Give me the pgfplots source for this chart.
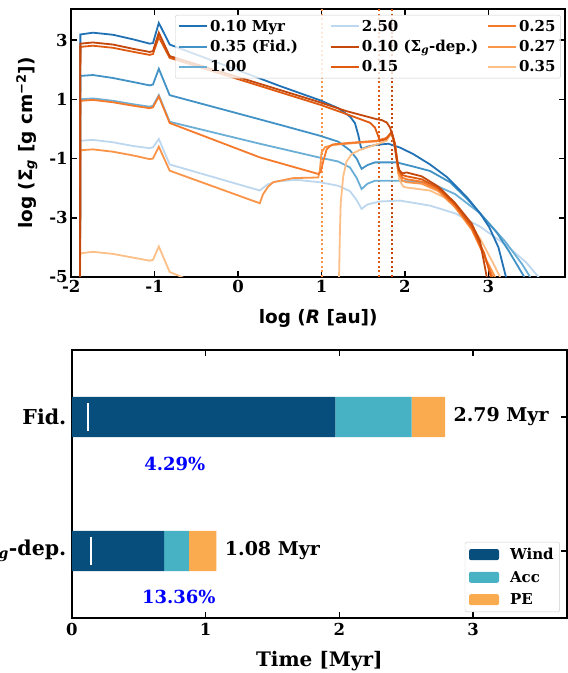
\documentclass[border=0pt]{standalone}
\usepackage{fontspec}
\setmainfont{DejaVu Serif}
\newfontfamily\dvsans{DejaVu Sans}
\usepackage{pgfplots}
\pgfplotsset{compat=1.18}

\newcommand\fsz[1]{\fontsize{#1bp}{#1bp}\selectfont}

\definecolor{b1}{HTML}{2171B5}
\definecolor{b2}{HTML}{4292C6}
\definecolor{b3}{HTML}{6BAED6}
\definecolor{b4}{HTML}{BDD7EE}
\definecolor{o1}{HTML}{C4470C}
\definecolor{o2}{HTML}{E05A10}
\definecolor{o3}{HTML}{F57A2B}
\definecolor{o4}{HTML}{FA9448}
\definecolor{o5}{HTML}{FDBF88}
\definecolor{cwind}{HTML}{084E7C}
\definecolor{cacc}{HTML}{47B2C4}
\definecolor{cpe}{HTML}{FAAB4F}

\pgfplotsset{
  frame/.style={
    scale only axis,
    tick align=inside, tick pos=both,
    major tick length=6bp,
    every tick/.style={black, line width=1.5bp},
    axis line style={line width=2.5bp},
    ticklabel style={font=\bfseries\fsz{16.5}},
  },
  sd/.style={line width=1.8bp},
  vdot/.style={line width=2bp, dash pattern=on 2bp off 2.5bp},
}

\begin{document}
\begin{tikzpicture}

% ---- top: surface density profiles ----
\begin{axis}[
  frame,
  at={(71.2bp,396bp)}, anchor=south west,
  width=494bp, height=268bp,
  xmin=-2, xmax=3.92, ymin=-5, ymax=4.05,
  xtick={-2,-1,0,1,2,3}, xticklabels={-2,-1,0,1,2,3},
  ytick={-5,-3,-1,1,3}, yticklabels={-5,-3,-1,1,3},
  xlabel={log (\textit{R} [au])},
  ylabel={log (Σ\textsubscript{\textit{g}} [g cm\textsuperscript{−2}])},
  label style={font=\dvsans\bfseries\fsz{18.5}},
  xlabel style={yshift=-10bp},
  ylabel style={yshift=5bp},
  legend columns=3,
  legend cell align=left,
  legend image code/.code={\draw[#1] (0bp,0bp) -- (28bp,0bp);},
  legend style={at={(0.991,0.978)}, anchor=north east,
    fill=white, fill opacity=0.8, text opacity=1, draw=black!20,
    rounded corners=2bp, font=\bfseries\fsz{15},
    inner xsep=3bp, inner ysep=3bp, row sep=3.5bp,
    /tikz/column 2/.style={column sep=30bp},
    /tikz/column 4/.style={column sep=7bp}},
]
\addlegendimage{b1, sd}\addlegendentry{0.10 Myr}
\addlegendimage{b4, sd}\addlegendentry{2.50}
\addlegendimage{o3, sd}\addlegendentry{0.25}
\addlegendimage{b2, sd}\addlegendentry{0.35 (Fid.)}
\addlegendimage{o1, sd}\addlegendentry{0.10 (Σ\textsubscript{\textit{g}}-dep.)}
\addlegendimage{o4, sd}\addlegendentry{0.27}
\addlegendimage{b3, sd}\addlegendentry{1.00}
\addlegendimage{o2, sd}\addlegendentry{0.15}
\addlegendimage{o5, sd}\addlegendentry{0.35}

% vertical markers
\addplot[o4, vdot, forget plot] coordinates {(1.0,-5) (1.0,4.05)};
\addplot[o2, vdot, forget plot] coordinates {(1.69,-5) (1.69,4.05)};
\addplot[o1, vdot, forget plot] coordinates {(1.845,-5) (1.845,4.05)};

% 2.50 Myr (Fid.)
\addplot[b4, sd, forget plot] coordinates {
 (-1.895,-6) (-1.89,-0.40) (-1.74,-0.37) (-1.5,-0.45) (-1.25,-0.58) (-1.06,-0.65)
 (-1.02,-0.62) (-0.95,-0.34) (-0.82,-1.20) (0.26,-2.08) (0.35,-1.88) (0.46,-1.77)
 (0.7,-1.72) (0.98,-1.80) (1.2,-1.92) (1.34,-2.1) (1.42,-2.4) (1.48,-2.70)
 (1.55,-2.55) (1.7,-2.45) (1.94,-2.42) (2.3,-2.59) (2.6,-2.85) (2.9,-3.3)
 (3.2,-3.9) (3.45,-4.5) (3.6,-5) (3.65,-5.5)};
% 1.00 Myr
\addplot[b3, sd, forget plot] coordinates {
 (-1.895,-6) (-1.89,1.0) (-1.74,1.03) (-1.5,0.95) (-1.25,0.83) (-1.06,0.75)
 (-1.02,0.78) (-0.95,1.14) (-0.82,0.24) (0.26,-0.5) (0.98,-0.97) (1.2,-1.1)
 (1.34,-1.3) (1.42,-1.65) (1.48,-2.03) (1.55,-1.85) (1.64,-1.75) (1.94,-1.75)
 (2.3,-1.82) (2.6,-2.2) (2.9,-2.85) (3.2,-3.8) (3.4,-4.55) (3.5,-5) (3.55,-5.5)};
% 0.35 Myr (Fid.)
\addplot[b2, sd, forget plot] coordinates {
 (-1.895,-6) (-1.89,1.79) (-1.74,1.82) (-1.5,1.72) (-1.25,1.58) (-1.06,1.47)
 (-1.02,1.5) (-0.95,2.03) (-0.82,1.14) (0,0.52) (0.5,0.14) (0.98,-0.23)
 (1.2,-0.43) (1.34,-0.72) (1.42,-1.0) (1.48,-1.35) (1.55,-1.22) (1.64,-1.13)
 (1.9,-1.13) (2.1,-1.27) (2.3,-1.42) (2.54,-1.8) (2.74,-2.35) (2.94,-2.98)
 (3.1,-3.5) (3.25,-4.15) (3.43,-5) (3.47,-5.5)};
% 0.10 Myr
\addplot[b1, sd, forget plot] coordinates {
 (-1.895,-6) (-1.89,3.19) (-1.74,3.25) (-1.5,3.18) (-1.25,3.02) (-1.06,2.88)
 (-1.02,2.9) (-0.95,3.58) (-0.82,2.85) (0,1.98) (0.5,1.45) (0.98,0.97)
 (1.2,0.7) (1.34,0.42) (1.40,0.2) (1.44,-0.2) (1.47,-0.6) (1.49,-0.68)
 (1.55,-0.6) (1.65,-0.54) (1.8,-0.5) (1.94,-0.63) (2.1,-0.85) (2.3,-1.2)
 (2.5,-1.62) (2.74,-2.3) (2.9,-2.85) (3.01,-3.32) (3.12,-4.0) (3.21,-5) (3.25,-5.5)};

% 0.35 Myr (dep.)
\addplot[o5, sd, forget plot] coordinates {
 (-1.895,-6) (-1.89,-4.2) (-1.74,-4.15) (-1.5,-4.22) (-1.25,-4.35) (-1.06,-4.45)
 (-1.02,-4.42) (-0.95,-3.97) (-0.82,-4.83) (-0.7,-4.97) (-0.6,-5.1) (-0.5,-5.5)
 (1.19,-5.5) (1.21,-5) (1.22,-3.5) (1.23,-2.5) (1.26,-1.6) (1.3,-1.1)
 (1.36,-0.85) (1.45,-0.72) (1.66,-0.52) (1.78,-0.4) (1.84,-0.12) (1.88,-0.6)
 (1.93,-1.7) (1.98,-1.95) (2.02,-1.98) (2.3,-2.08) (2.5,-2.35) (2.7,-2.9)
 (2.9,-3.7) (3.05,-4.5) (3.14,-5) (3.17,-5.5)};
% 0.27 Myr
\addplot[o4, sd, forget plot] coordinates {
 (-1.895,-6) (-1.89,-0.72) (-1.74,-0.69) (-1.5,-0.77) (-1.25,-0.9) (-1.06,-1.02)
 (-1.02,-1.0) (-0.95,-0.6) (-0.82,-1.41) (0.26,-2.51) (0.3,-2.2) (0.36,-1.95)
 (0.42,-1.8) (0.66,-1.66) (0.96,-1.64) (0.98,-1.4) (1.0,-0.8) (1.04,-0.62)
 (1.14,-0.54) (1.38,-0.48) (1.66,-0.42) (1.78,-0.32) (1.84,-0.15) (1.88,-0.6)
 (1.92,-1.5) (1.97,-1.75) (2.02,-1.80) (2.2,-1.85) (2.4,-2.1) (2.6,-2.65)
 (2.8,-3.4) (2.97,-4.4) (3.08,-5) (3.1,-5.5)};
% 0.25 Myr
\addplot[o3, sd, forget plot] coordinates {
 (-1.895,-6) (-1.89,0.95) (-1.74,0.98) (-1.5,0.9) (-1.25,0.78) (-1.06,0.70)
 (-1.02,0.73) (-0.95,1.10) (-0.82,0.20) (0.26,-0.96) (0.96,-1.52) (0.99,-1.45)
 (1.02,-1.1) (1.06,-0.7) (1.1,-0.58) (1.14,-0.52) (1.38,-0.46) (1.66,-0.40)
 (1.78,-0.3) (1.84,-0.12) (1.88,-0.5) (1.92,-1.4) (1.97,-1.65) (2.02,-1.70)
 (2.2,-1.78) (2.4,-2.05) (2.6,-2.6) (2.8,-3.35) (2.95,-4.3) (3.05,-5) (3.08,-5.5)};
% 0.15 Myr
\addplot[o2, sd, forget plot] coordinates {
 (-1.895,-6) (-1.89,2.77) (-1.74,2.81) (-1.5,2.74) (-1.25,2.6) (-1.06,2.5)
 (-1.02,2.53) (-0.95,3.1) (-0.82,2.40) (0.98,0.82) (1.3,0.5) (1.58,0.21)
 (1.64,0.05) (1.70,-0.40) (1.77,-0.35) (1.84,-0.1) (1.88,-0.5) (1.92,-1.3)
 (1.96,-1.55) (2.02,-1.6) (2.2,-1.7) (2.4,-2.0) (2.6,-2.55) (2.8,-3.3)
 (2.95,-4.2) (3.03,-5) (3.06,-5.5)};
% 0.10 Myr (dep.)
\addplot[o1, sd, forget plot] coordinates {
 (-1.895,-6) (-1.89,2.88) (-1.74,2.92) (-1.5,2.85) (-1.25,2.7) (-1.06,2.6)
 (-1.02,2.63) (-0.95,3.25) (-0.82,2.46) (0.98,0.9) (1.3,0.6) (1.66,0.33)
 (1.72,0.3) (1.78,0.22) (1.82,0.05) (1.86,-0.3) (1.9,-1.0) (1.93,-1.4)
 (1.97,-1.5) (2.02,-1.47) (2.2,-1.6) (2.4,-1.95) (2.6,-2.5) (2.8,-3.2)
 (2.9,-3.8) (2.98,-5) (3.0,-5.5)};
\end{axis}

% ---- bottom: dispersal time budget ----
\begin{axis}[
  frame,
  at={(71.8bp,55bp)}, anchor=south west,
  width=495bp, height=268bp,
  xmin=0, xmax=3.70, ymin=-0.5, ymax=1.5,
  xbar stacked, bar width=0.3,
  xtick={0,1,2,3}, xticklabels={0,1,2,3},
  ytick={0,1}, yticklabels={Σ\textsubscript{\textit{g}}-dep.,Fid.},
  yticklabel style={font=\bfseries\fsz{20.5}, xshift=-2bp},
  xticklabel style={yshift=-2bp},
  xlabel={Time [Myr]},
  xlabel style={font=\bfseries\fsz{20}, yshift=-8bp},
  legend cell align=left,
  legend image code/.code={\fill[#1, fill opacity=1] (0bp,-5.5bp) rectangle (30bp,5.5bp);},
  legend style={at={(0.986,0.022)}, anchor=south east,
    fill=white, fill opacity=0.8, text opacity=1, draw=black!20,
    rounded corners=2bp, font=\bfseries\fsz{15},
    inner xsep=4bp, inner ysep=4bp, row sep=6bp,
    /tikz/column 1/.style={column sep=9bp}},
]
\addplot[fill=cwind, draw=none] coordinates {(1.97,1) (0.69,0)};
\addlegendentry{Wind}
\addplot[fill=cacc, draw=none] coordinates {(0.57,1) (0.185,0)};
\addlegendentry{Acc}
\addplot[fill=cpe, draw=none] coordinates {(0.25,1) (0.205,0)};
\addlegendentry{PE}
\node[anchor=west, inner sep=0pt, font=\bfseries\fsz{19}] at (axis cs:2.852,1) {2.79 Myr};
\node[anchor=west, inner sep=0pt, font=\bfseries\fsz{19}] at (axis cs:1.143,0) {1.08 Myr};
\node[text=blue, font=\bfseries\fsz{18}] at (axis cs:0.77,0.65) {4.29\%};
\node[text=blue, font=\bfseries\fsz{18}] at (axis cs:0.80,-0.34) {13.36\%};
\end{axis}

% overlay with the same frame: markers inside the bars
\begin{axis}[
  at={(71.8bp,55bp)}, anchor=south west,
  scale only axis, width=495bp, height=268bp,
  xmin=0, xmax=3.70, ymin=-0.5, ymax=1.5,
  hide axis,
]
\addplot[white, line width=2.5bp] coordinates {(0.1197,0.895) (0.1197,1.105)};
\addplot[white, line width=2.5bp] coordinates {(0.1443,-0.105) (0.1443,0.105)};
\end{axis}

\pgfresetboundingbox
\useasboundingbox (0,0) rectangle (568bp,673bp);
\end{tikzpicture}
\end{document}
